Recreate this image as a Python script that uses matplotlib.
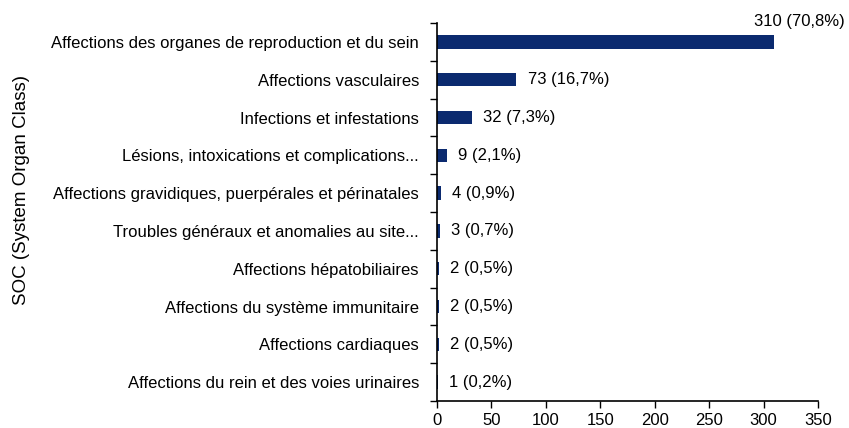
import matplotlib.pyplot as plt
import numpy as np

plt.rcParams['font.family'] = ['Liberation Sans', 'DejaVu Sans']

categories = [
    "Affections des organes de reproduction et du sein",
    "Affections vasculaires",
    "Infections et infestations",
    "Lésions, intoxications et complications...",
    "Affections gravidiques, puerpérales et périnatales",
    "Troubles généraux et anomalies au site...",
    "Affections hépatobiliaires",
    "Affections du système immunitaire",
    "Affections cardiaques",
    "Affections du rein et des voies urinaires",
]
counts = [310, 73, 32, 9, 4, 3, 2, 2, 2, 1]
percents = ["70,8", "16,7", "7,3", "2,1", "0,9", "0,7", "0,5", "0,5", "0,5", "0,2"]

fig = plt.figure(figsize=(8.49, 4.28), dpi=100)
ax = fig.add_axes([437 / 849, 1 - 401 / 428, 381 / 849, 378 / 428])

y = np.arange(len(categories))
ax.barh(y, counts, height=0.35, color='#0b2a6f')

ax.set_xlim(0, 350)
ax.set_ylim(len(categories) - 0.5, -0.5)
ax.set_xticks(np.arange(0, 351, 50))
ax.set_yticks(y)
ax.set_yticklabels(categories, fontsize=12)
ax.set_yticks(np.arange(-0.5, len(categories), 1), minor=True)
ax.tick_params(axis='y', which='major', length=0, pad=13)
ax.tick_params(axis='y', which='minor', length=5, direction='out', width=1)
ax.tick_params(axis='x', length=5, direction='out', labelsize=12, width=1)
ax.spines['top'].set_visible(False)
ax.spines['right'].set_visible(False)
ax.spines['left'].set_linewidth(1.2)
ax.spines['bottom'].set_linewidth(1.2)

for i, (c, p) in enumerate(zip(counts, percents)):
    label = f"{c} ({p}%)"
    if i == 0:
        ax.annotate(label, xy=(c, i), xytext=(18, 15), textcoords='offset points',
                    ha='center', va='center', fontsize=12, annotation_clip=False)
    else:
        ax.annotate(label, xy=(c, i), xytext=(8, 0), textcoords='offset points',
                    ha='left', va='center', fontsize=12)

fig.text(22 / 849, 1 - 190 / 428, "SOC (System Organ Class)", rotation=90,
         ha='center', va='center', fontsize=13.5)

fig.savefig('out.png', dpi=100)
